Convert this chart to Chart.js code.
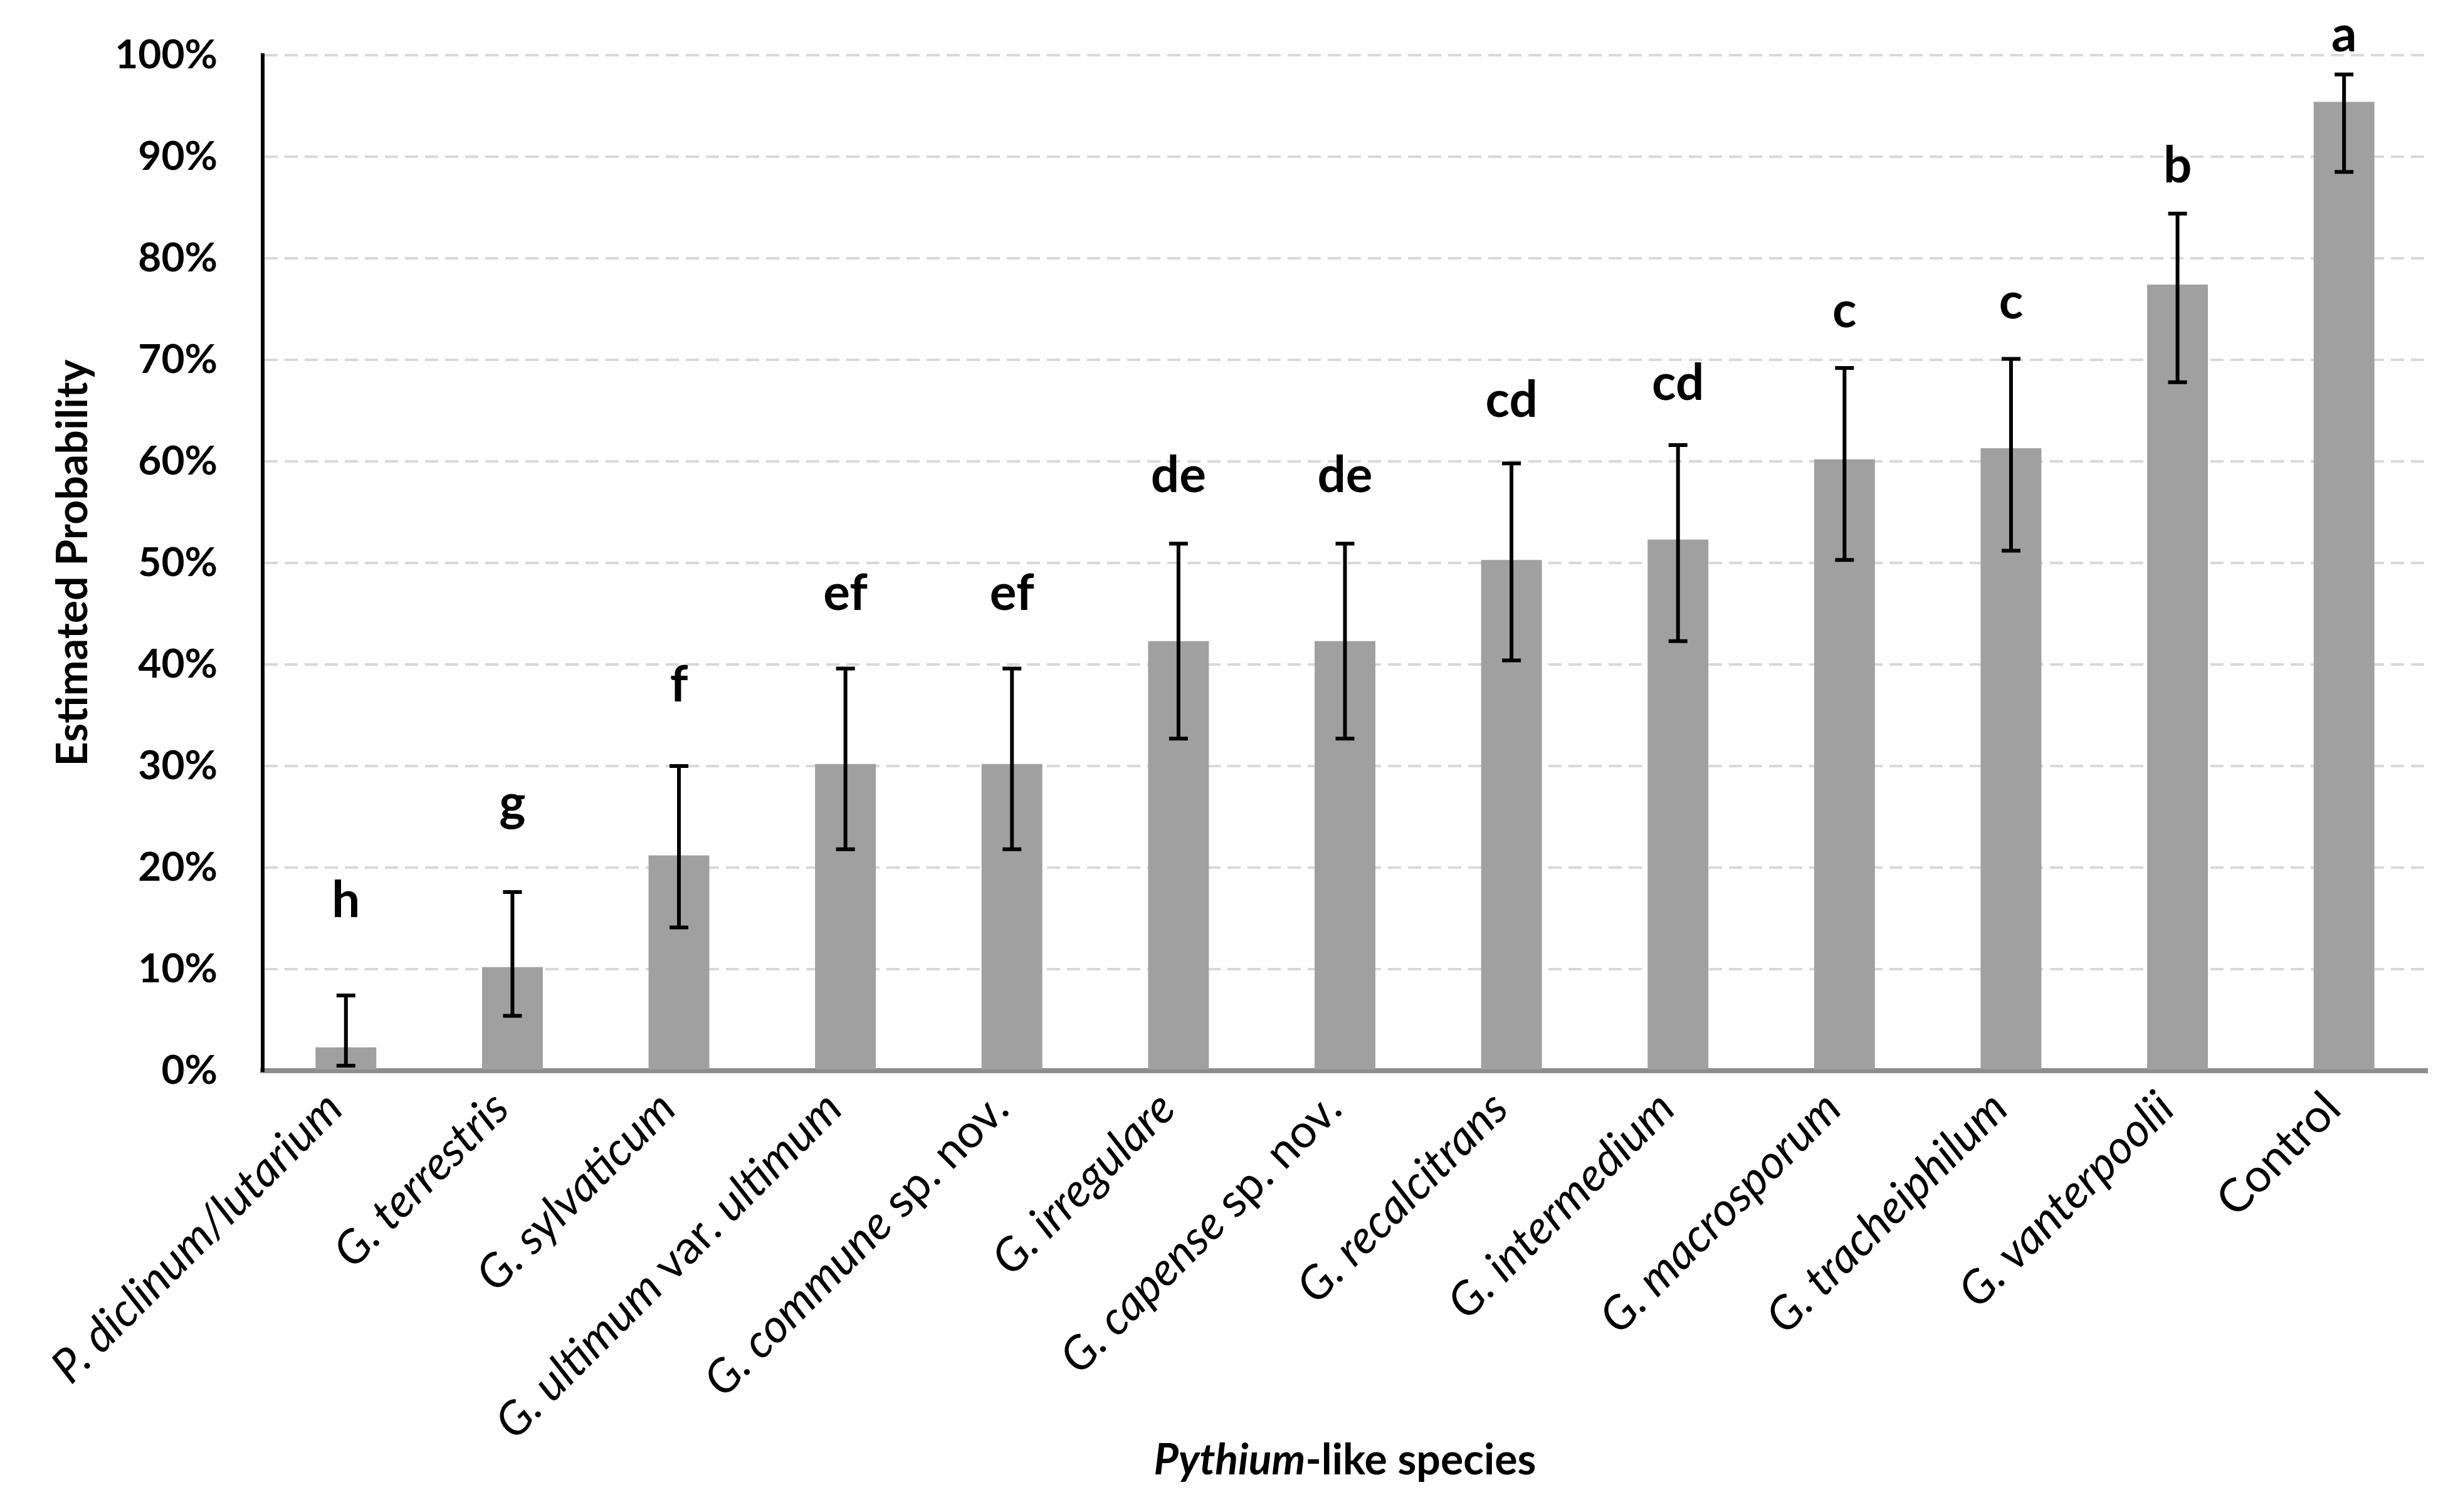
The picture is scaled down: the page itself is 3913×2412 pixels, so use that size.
<!DOCTYPE html>
<html lang="en">
<head>
<meta charset="UTF-8">
<title>Estimated probability by Pythium-like species</title>
<script src="https://cdn.jsdelivr.net/npm/chart.js@4.4.1/dist/chart.umd.min.js"></script>
<style>
  html, body { margin: 0; padding: 0; background: #fff; }
  #wrap { width: 3913px; height: 2412px; position: relative; }
</style>
</head>
<body>
<div id="wrap"><canvas id="chart"></canvas></div>
<script>
// data
const species = [
  'P. diclinum/lutarium', 'G. terrestris', 'G. sylvaticum', 'G. ultimum var. ultimum',
  'G. commune sp. nov.', 'G. irregulare', 'G. capense sp. nov.', 'G. recalcitrans',
  'G. intermedium', 'G. macrosporum', 'G. tracheiphilum', 'G. vanterpoolii', 'Control'
];
const probability = [2.3, 10.2, 21.2, 30.2, 30.2, 42.3, 42.3, 50.3, 52.3, 60.2, 61.3, 77.4, 95.4];
const upperCI = [7.4, 17.6, 30.0, 39.6, 39.6, 51.9, 51.9, 59.8, 61.6, 69.2, 70.1, 84.4, 98.1];
const lowerCI = [0.5, 5.4, 14.1, 21.8, 21.8, 32.7, 32.7, 40.4, 42.3, 50.3, 51.2, 67.8, 88.5];
const groups = ['h', 'g', 'f', 'ef', 'ef', 'de', 'de', 'cd', 'cd', 'c', 'c', 'b', 'a'];
const yTicks = [0, 10, 20, 30, 40, 50, 60, 70, 80, 90, 100];

// words that stay upright inside the italic species names
const uprightWords = ['var.', 'sp.', 'nov.', 'Control'];

Chart.defaults.font.family = 'Lato';
Chart.defaults.color = '#000';

function labelParts(text) {
  const words = text.split(' ');
  return words.map((w, k) => ({
    text: w + (k < words.length - 1 ? ' ' : ''),
    italic: !uprightWords.includes(w)
  }));
}

// error bars + significance letters
const errorBars = {
  id: 'errorBars',
  afterDatasetsDraw(chart) {
    const { ctx, chartArea, scales: { x, y } } = chart;
    ctx.save();
    ctx.strokeStyle = '#000';
    ctx.fillStyle = '#000';
    ctx.lineWidth = 6;
    ctx.font = 'bold 80px Lato';
    ctx.textAlign = 'center';
    ctx.textBaseline = 'alphabetic';
    species.forEach((s, i) => {
      const px = x.getPixelForValue(i);
      const top = y.getPixelForValue(upperCI[i]);
      const bot = y.getPixelForValue(lowerCI[i]);
      ctx.beginPath();
      ctx.moveTo(px, top); ctx.lineTo(px, bot);
      ctx.moveTo(px - 15, top); ctx.lineTo(px + 15, top);
      ctx.moveTo(px - 15, bot); ctx.lineTo(px + 15, bot);
      ctx.stroke();
      // letters sit a little further above the shorter bars
      const gap = 35 + 0.06 * (top - chartArea.top);
      ctx.fillText(groups[i], px, top - gap);
    });
    ctx.restore();
  }
};

// rotated category labels (mixed italic) and the x axis title
const xLabels = {
  id: 'xLabels',
  afterDraw(chart) {
    const { ctx, chartArea, scales: { x } } = chart;
    ctx.save();
    ctx.fillStyle = '#000';
    species.forEach((name, i) => {
      const parts = labelParts(name);
      const fonts = parts.map(p => (p.italic ? 'italic ' : '') + '74px Lato');
      let total = 0;
      const widths = parts.map((p, k) => {
        ctx.font = fonts[k];
        const w = ctx.measureText(p.text).width;
        total += w;
        return w;
      });
      ctx.save();
      ctx.translate(x.getPixelForValue(i) - 18, chartArea.bottom + 48);
      ctx.rotate(-Math.PI / 4);
      ctx.textAlign = 'left';
      ctx.textBaseline = 'middle';
      let cx = -total;
      parts.forEach((p, k) => {
        ctx.font = fonts[k];
        ctx.fillText(p.text, cx, 0);
        cx += widths[k];
      });
      ctx.restore();
    });

    // "Pythium-like species"
    const title = [
      { text: 'Pythium', font: 'italic bold 68px Lato' },
      { text: '-like species', font: 'bold 68px Lato' }
    ];
    let tw = 0;
    title.forEach(t => { ctx.font = t.font; t.w = ctx.measureText(t.text).width; tw += t.w; });
    let tx = (chartArea.left + chartArea.right) / 2 - tw / 2;
    ctx.textAlign = 'left';
    ctx.textBaseline = 'alphabetic';
    title.forEach(t => { ctx.font = t.font; ctx.fillText(t.text, tx, 2352); tx += t.w; });
    ctx.restore();
  }
};

new Chart(document.getElementById('chart'), {
  type: 'bar',
  data: {
    labels: species,
    datasets: [{
      label: 'Estimated Probability',
      data: probability,
      backgroundColor: '#a0a0a0',
      borderWidth: 0,
      categoryPercentage: 1,
      barPercentage: 0.365
    }]
  },
  options: {
    responsive: true,
    maintainAspectRatio: false,
    devicePixelRatio: 1,
    animation: false,
    layout: { padding: { left: 76, right: 41, top: 88, bottom: 0 } },
    plugins: { legend: { display: false }, tooltip: { enabled: false } },
    scales: {
      x: {
        ticks: { display: false },
        grid: { display: true, drawOnChartArea: false, drawTicks: false },
        border: { color: '#8c8c8c', width: 8 },
        afterFit(scale) { scale.height = 704; }
      },
      y: {
        min: 0,
        max: 100,
        afterBuildTicks(scale) { scale.ticks = yTicks.map(v => ({ value: v })); },
        ticks: {
          padding: 72,
          font: { size: 64, weight: 'bold' },
          color: '#000',
          callback: v => v + '%'
        },
        grid: {
          drawTicks: false,
          lineWidth: 4,
          color: ctx => (ctx.tick && ctx.tick.value === 0 ? 'rgba(0,0,0,0)' : '#d9d9d9')
        },
        border: { color: '#000', width: 6, dash: [21, 11] },
        title: {
          display: true,
          text: 'Estimated Probability',
          font: { size: 68, weight: 'bold' },
          color: '#000',
          padding: { top: 0, bottom: 0 }
        },
        afterFit(scale) {
          scale.width = 419 - 76;
          // keep the plot top at the 100% line
          scale.paddingTop = 0;
          scale.paddingBottom = 0;
        }
      }
    }
  },
  plugins: [errorBars, xLabels]
});
</script>
</body>
</html>
